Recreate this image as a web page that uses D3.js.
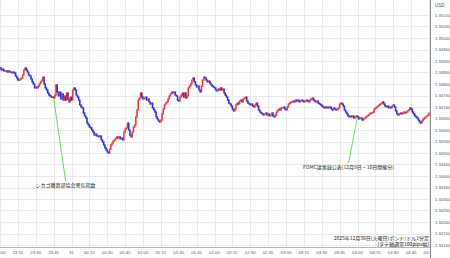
<!DOCTYPE html>
<html>
<head>
<meta charset="utf-8">
<script src="https://cdn.jsdelivr.net/npm/d3@7"></script>
<style>
  body { margin: 0; background: #fff; }
  svg { display: block; }
</style>
</head>
<body>
<div id="chart"></div>
<script>

// GBP/USD 1 min closes, 23:00 -> 05:00
const closes = [
  1.34870, 1.34861, 1.34865, 1.34857, 1.34857, 1.34857, 1.34852, 1.34857, 1.34852, 1.34852, 1.34848, 1.34852, 1.34848, 1.34835, 1.34826,
  1.34817, 1.34817, 1.34822, 1.34826, 1.34839, 1.34861, 1.34870, 1.34861, 1.34852, 1.34839, 1.34835, 1.34822, 1.34809, 1.34800, 1.34783,
  1.34787, 1.34783, 1.34791, 1.34800, 1.34809, 1.34817, 1.34830, 1.34800, 1.34783, 1.34774, 1.34761, 1.34752, 1.34748, 1.34743, 1.34743,
  1.34739, 1.34752, 1.34796, 1.34765, 1.34748, 1.34765, 1.34735, 1.34757, 1.34730, 1.34748, 1.34730, 1.34761, 1.34735, 1.34722, 1.34743,
  1.34730, 1.34774, 1.34783, 1.34774, 1.34752, 1.34743, 1.34730, 1.34709, 1.34700, 1.34696, 1.34674, 1.34661, 1.34652, 1.34630, 1.34622,
  1.34613, 1.34609, 1.34600, 1.34591, 1.34578, 1.34583, 1.34574, 1.34574, 1.34570, 1.34574, 1.34557, 1.34548, 1.34535, 1.34522, 1.34513,
  1.34504, 1.34500, 1.34517, 1.34535, 1.34543, 1.34552, 1.34557, 1.34565, 1.34570, 1.34565, 1.34570, 1.34561, 1.34565, 1.34557, 1.34591,
  1.34604, 1.34609, 1.34630, 1.34600, 1.34578, 1.34570, 1.34591, 1.34613, 1.34622, 1.34657, 1.34687, 1.34730, 1.34739, 1.34761, 1.34743,
  1.34735, 1.34739, 1.34743, 1.34730, 1.34735, 1.34722, 1.34713, 1.34717, 1.34696, 1.34687, 1.34678, 1.34657, 1.34648, 1.34639, 1.34635,
  1.34643, 1.34670, 1.34691, 1.34709, 1.34717, 1.34722, 1.34735, 1.34748, 1.34757, 1.34765, 1.34761, 1.34765, 1.34752, 1.34748, 1.34730,
  1.34726, 1.34743, 1.34752, 1.34761, 1.34743, 1.34761, 1.34739, 1.34748, 1.34783, 1.34791, 1.34800, 1.34817, 1.34826, 1.34809, 1.34796,
  1.34787, 1.34791, 1.34774, 1.34765, 1.34791, 1.34817, 1.34830, 1.34826, 1.34817, 1.34809, 1.34813, 1.34804, 1.34796, 1.34791, 1.34787,
  1.34783, 1.34774, 1.34770, 1.34778, 1.34774, 1.34783, 1.34774, 1.34778, 1.34761, 1.34752, 1.34743, 1.34730, 1.34717, 1.34713, 1.34704,
  1.34691, 1.34683, 1.34691, 1.34709, 1.34717, 1.34713, 1.34726, 1.34730, 1.34722, 1.34735, 1.34739, 1.34743, 1.34726, 1.34717, 1.34713,
  1.34709, 1.34713, 1.34704, 1.34700, 1.34709, 1.34717, 1.34704, 1.34687, 1.34678, 1.34674, 1.34670, 1.34665, 1.34670, 1.34674, 1.34665,
  1.34670, 1.34661, 1.34665, 1.34674, 1.34661, 1.34657, 1.34665, 1.34678, 1.34687, 1.34691, 1.34687, 1.34696, 1.34696, 1.34700, 1.34691,
  1.34687, 1.34700, 1.34713, 1.34717, 1.34722, 1.34722, 1.34726, 1.34722, 1.34730, 1.34726, 1.34730, 1.34722, 1.34726, 1.34730, 1.34726,
  1.34722, 1.34726, 1.34730, 1.34726, 1.34722, 1.34730, 1.34735, 1.34739, 1.34730, 1.34726, 1.34722, 1.34726, 1.34717, 1.34713, 1.34709,
  1.34704, 1.34700, 1.34696, 1.34700, 1.34696, 1.34700, 1.34696, 1.34700, 1.34691, 1.34687, 1.34696, 1.34691, 1.34687, 1.34691, 1.34696,
  1.34713, 1.34717, 1.34713, 1.34704, 1.34687, 1.34678, 1.34670, 1.34661, 1.34657, 1.34661, 1.34657, 1.34661, 1.34652, 1.34657, 1.34661,
  1.34657, 1.34648, 1.34652, 1.34652, 1.34643, 1.34648, 1.34652, 1.34657, 1.34661, 1.34665, 1.34670, 1.34674, 1.34674, 1.34678, 1.34691,
  1.34696, 1.34700, 1.34704, 1.34709, 1.34713, 1.34717, 1.34722, 1.34713, 1.34704, 1.34700, 1.34704, 1.34696, 1.34700, 1.34696, 1.34704,
  1.34709, 1.34700, 1.34683, 1.34670, 1.34665, 1.34670, 1.34674, 1.34670, 1.34674, 1.34678, 1.34674, 1.34678, 1.34683, 1.34687, 1.34696,
  1.34691, 1.34678, 1.34670, 1.34661, 1.34657, 1.34652, 1.34643, 1.34635, 1.34630, 1.34639, 1.34648, 1.34652, 1.34657, 1.34661, 1.34665,
  1.34674
]

const timeLabels = ['23:00', '23:15', '23:30', '23:45', '31', '00:15', '00:30', '00:45', '01:00', '01:15', '01:30', '01:45', '02:00',
  '02:15', '02:30', '02:45', '03:00', '03:15', '03:30', '03:45', '04:00', '04:15', '04:30', '04:45', '05:00']

const priceTicks = [1.35100, 1.35050, 1.35000, 1.34950, 1.34900, 1.34850, 1.34800, 1.34750, 1.34700, 1.34650, 1.34600,
  1.34550, 1.34500, 1.34450, 1.34400, 1.34350, 1.34300, 1.34250, 1.34200, 1.34150, 1.34100]

// minute offsets from 23:00
const eventMinutes = [45, 300]
const eventTexts = ['シカゴ購買部協会景気指数', 'FOMC議事録公表(12月9日・10日開催分)']

const noteLines = ['2025年12月30日(火曜日)ポンド/ドル1分足', '[タテ軸通常100pips幅]']

const width = 450
const height = 258
const plotRight = 430
const plotBottom = 247
const jp = '"Noto Sans CJK JP", "Noto Sans", sans-serif'

const svg = d3.select('#chart')
  .append('svg')
  .attr('width', width)
  .attr('height', height)

const x = d3.scaleLinear().domain([0, 360]).range([0, 429])
const y = d3.scaleLinear().domain([1.34100, 1.35100]).range([245, 15])

svg.append('defs').append('clipPath').attr('id', 'plotClip')
  .append('rect').attr('x', 0).attr('y', 0).attr('width', plotRight).attr('height', height)

// grid
const grid = svg.append('g')
grid.selectAll('.vg')
  .data(timeLabels)
  .enter().append('line')
  .attr('x1', (d, i) => Math.round(x(i * 15)) + 0.5)
  .attr('x2', (d, i) => Math.round(x(i * 15)) + 0.5)
  .attr('y1', 0)
  .attr('y2', plotBottom)
  .attr('stroke', '#e9e9ee')
grid.selectAll('.hg')
  .data(priceTicks)
  .enter().append('line')
  .attr('x1', 0)
  .attr('x2', plotRight)
  .attr('y1', d => Math.round(y(d)) + 0.5)
  .attr('y2', d => Math.round(y(d)) + 0.5)
  .attr('stroke', '#e9e9ee')

// candles (open = previous close)
const candles = closes.map((c, i) => ({ t: i, open: i ? closes[i - 1] : c, close: c }))

svg.append('g')
  .attr('clip-path', 'url(#plotClip)')
  .selectAll('rect')
  .data(candles)
  .enter().append('rect')
  .attr('x', d => x(d.t) - 0.8)
  .attr('width', 1.6)
  .attr('y', d => y(Math.max(d.open, d.close)) - 0.6)
  .attr('height', d => Math.abs(y(d.open) - y(d.close)) + 1.2)
  .attr('fill', d => d.close > d.open ? '#e8393a' : '#2b2fd0')

// event callouts
const calloutOffsets = [{ dx: 12, y: 181 }, { dx: -9, y: 163 }]
eventMinutes.forEach((m, i) => {
  const x0 = x(m)
  const y0 = y(closes[m])
  const x1 = x0 + calloutOffsets[i].dx
  const y1 = calloutOffsets[i].y
  svg.append('line')
    .attr('x1', x0).attr('y1', y0)
    .attr('x2', x1).attr('y2', y1)
    .attr('stroke', '#5ee05e')
    .attr('stroke-width', 1)
  svg.append('text')
    .attr('x', x1)
    .attr('y', y1 + 6)
    .attr('text-anchor', 'middle')
    .attr('font-family', jp)
    .attr('font-size', 5)
    .attr('fill', '#222')
    .text(eventTexts[i])
})

// note, bottom right
svg.selectAll('.note')
  .data(noteLines)
  .enter().append('text')
  .attr('x', 429)
  .attr('y', (d, i) => 239.5 + i * 6)
  .attr('text-anchor', 'end')
  .attr('font-family', jp)
  .attr('font-size', 5)
  .attr('fill', '#222')
  .text(d => d)

// axes
svg.append('line')
  .attr('x1', plotRight + 0.5).attr('x2', plotRight + 0.5)
  .attr('y1', 0).attr('y2', height)
  .attr('stroke', '#8a8a8a')
svg.append('line')
  .attr('x1', 0).attr('x2', plotRight)
  .attr('y1', plotBottom + 0.5).attr('y2', plotBottom + 0.5)
  .attr('stroke', '#b5b5b5')

svg.append('g')
  .attr('clip-path', 'url(#plotClip)')
  .selectAll('text')
  .data(timeLabels)
  .enter().append('text')
  .attr('x', (d, i) => x(i * 15))
  .attr('y', 254)
  .attr('text-anchor', 'middle')
  .attr('font-family', 'Arial, "Liberation Sans", sans-serif')
  .attr('font-size', 4.3)
  .attr('fill', '#555')
  .text(d => d)

svg.selectAll('.pl')
  .data(priceTicks)
  .enter().append('text')
  .attr('x', 435)
  .attr('y', d => y(d) + 1.5)
  .attr('font-family', 'Arial, "Liberation Sans", sans-serif')
  .attr('font-size', 4.2)
  .attr('fill', '#555')
  .text(d => d.toFixed(5))

svg.append('text')
  .attr('x', 435)
  .attr('y', 7)
  .attr('font-family', 'Arial, "Liberation Sans", sans-serif')
  .attr('font-size', 4.5)
  .attr('fill', '#555')
  .text('USD')

</script>
</body>
</html>
